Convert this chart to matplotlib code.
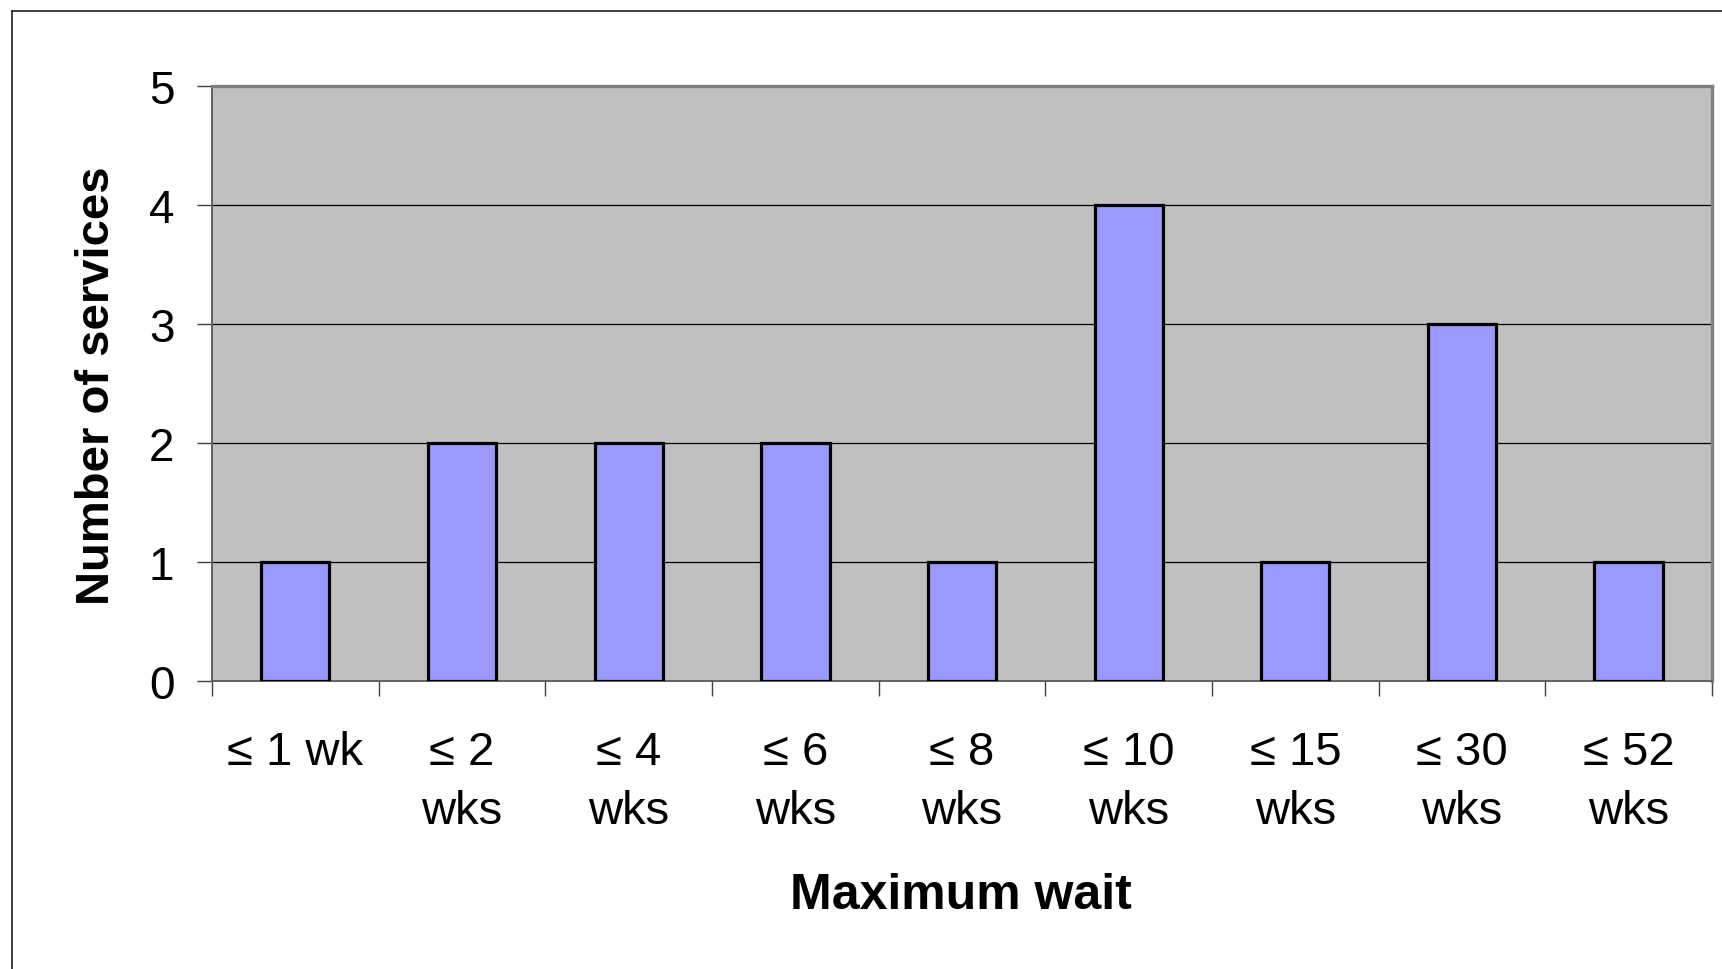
import matplotlib
matplotlib.use("Agg")
import matplotlib.pyplot as plt
from matplotlib.lines import Line2D
import numpy as np

# --- data ---
wait_labels = ["≤ 1 wk", "≤ 2\nwks", "≤ 4\nwks", "≤ 6\nwks", "≤ 8\nwks",
               "≤ 10\nwks", "≤ 15\nwks", "≤ 30\nwks", "≤ 52\nwks"]
n_services = [1, 2, 2, 2, 1, 4, 1, 3, 1]
y_ticks = [0, 1, 2, 3, 4, 5]

plt.rcParams['font.family'] = ['Liberation Sans', 'DejaVu Sans']

W, H = 1722, 970
fig = plt.figure(figsize=(W / 100, H / 100), dpi=100)
fig.patch.set_facecolor('white')

# plot area in pixel coordinates -> figure fractions
left, right, top, bottom = 212, 1712, 87, 682
ax = fig.add_axes([left / W, 1 - bottom / H, (right - left) / W, (bottom - top) / H])
ax.set_facecolor('#C0C0C0')

x = np.arange(len(n_services))
ax.bar(x, n_services, width=0.41, color='#9999FF', edgecolor='black',
       linewidth=2.3, zorder=3)

ax.set_xlim(-0.5, len(n_services) - 0.5)
ax.set_ylim(0, 5)

# gridlines
ax.set_yticks(y_ticks)
ax.yaxis.grid(True, color='black', linewidth=0.9, zorder=1)
ax.set_axisbelow(True)

# tick labels at category centres, tick marks at category boundaries
ax.set_xticks(x)
ax.set_xticklabels(wait_labels, fontsize=34, linespacing=1.45)
ax.set_xticks(np.arange(-0.5, len(n_services)), minor=True)
ax.tick_params(axis='x', which='major', length=0, pad=35)
ax.tick_params(axis='x', which='minor', length=11, width=1.0, color='#404040')
ax.tick_params(axis='y', length=11, width=1.0, color='#404040',
               labelsize=33, pad=16)

for side in ['top', 'right']:
    ax.spines[side].set_color('#808080')
    ax.spines[side].set_linewidth(2.4)
for side in ['left', 'bottom']:
    ax.spines[side].set_color('#606060')
    ax.spines[side].set_linewidth(1.4)

fig.text(961 / W, 1 - 896 / H, "Maximum wait", fontsize=36,
         fontweight='bold', ha='center', va='center')
fig.text(97 / W, 1 - 386 / H, "Number of services", fontsize=34,
         fontweight='bold', ha='center', va='center', rotation=90)

# outer chart frame
fig.add_artist(Line2D([12 / W, 12 / W], [0, 1 - 12 / H], color='#202020',
                      linewidth=1.2, transform=fig.transFigure))
fig.add_artist(Line2D([12 / W, 1], [1 - 12 / H, 1 - 12 / H], color='#202020',
                      linewidth=1.2, transform=fig.transFigure))

fig.savefig("out.png", dpi=100)
